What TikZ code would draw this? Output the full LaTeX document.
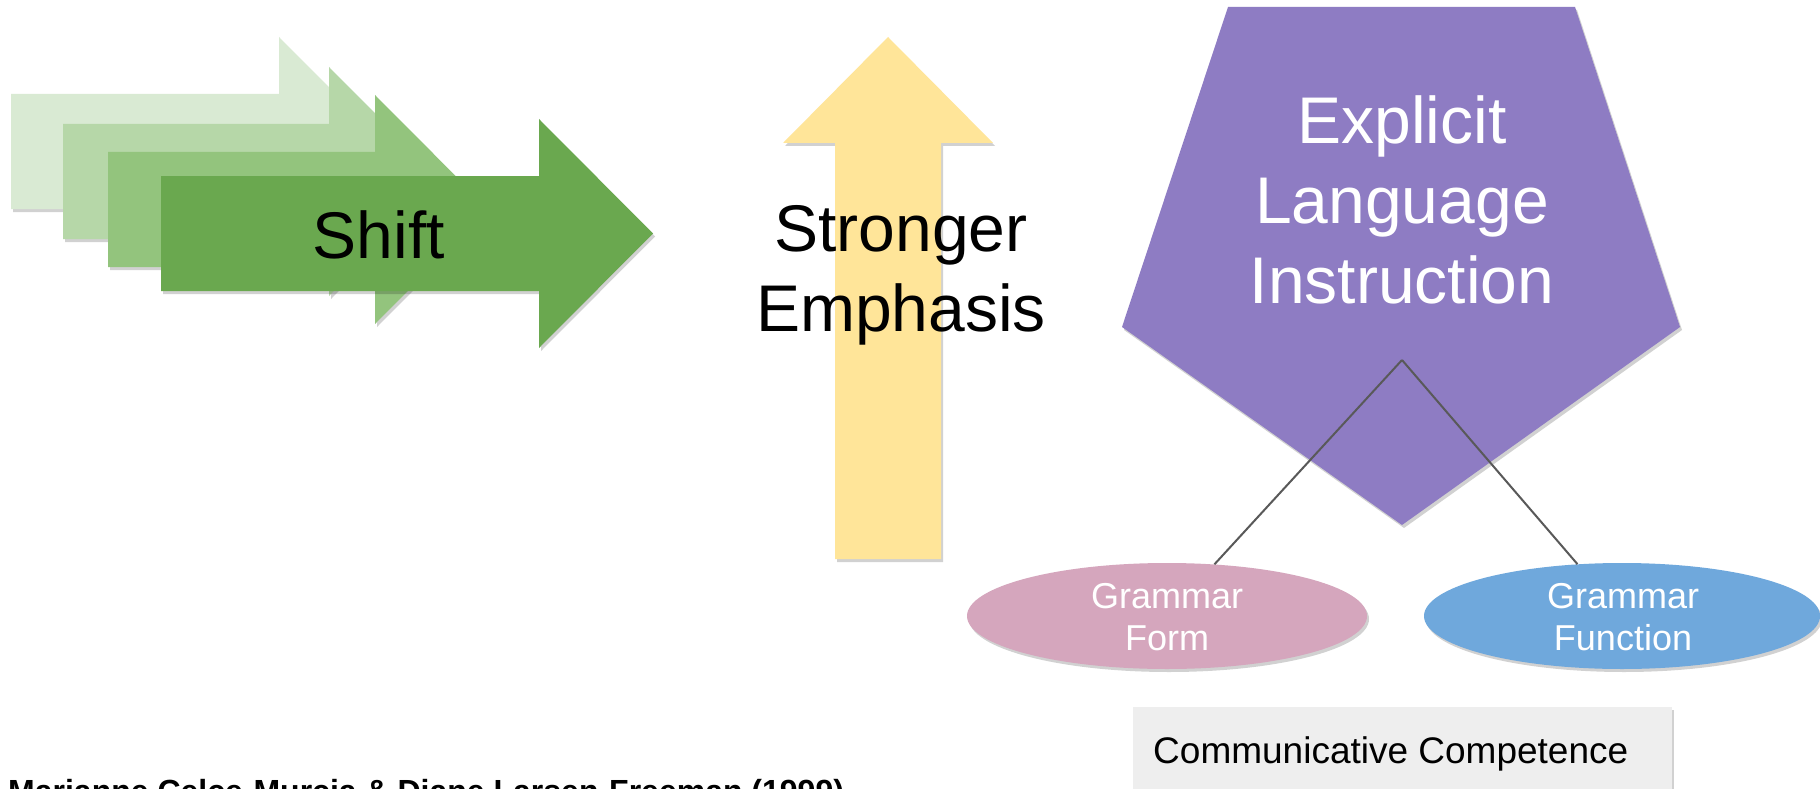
\documentclass[tikz,border=0pt]{standalone}
\usepackage{fontspec}
\setmainfont{Liberation Sans}
\usetikzlibrary{shapes.geometric,shadows}
\definecolor{gA}{HTML}{D9EAD3}
\definecolor{gB}{HTML}{B6D7A8}
\definecolor{gC}{HTML}{93C47D}
\definecolor{gD}{HTML}{6AA84F}
\definecolor{ylw}{HTML}{FFE599}
\definecolor{prp}{HTML}{8E7CC3}
\definecolor{pnk}{HTML}{D5A6BD}
\definecolor{blu}{HTML}{6FA8DC}
\definecolor{boxgray}{HTML}{EEEEEE}
\definecolor{conngray}{HTML}{595959}
\newcommand{\shiftarrow}[4]{%
  \fill[#4, shadowed] (#1,#2) -- (#3,#2) -- (#3,#2-57) -- (#3+114,#2+57.5)
    -- (#3,#2+172) -- (#3,#2+115) -- (#1,#2+115) -- cycle;}
\begin{document}
\begin{tikzpicture}[x=1pt,y=-1pt,
  shadowed/.style={drop shadow={shadow xshift=2pt,shadow yshift=-3pt,opacity=0.18,fill=black}},
  bigtxt/.style={inner sep=0pt,font=\fontsize{66}{80}\selectfont},
  smalltxt/.style={inner sep=0pt,font=\fontsize{36}{42}\selectfont,text=white},
  ellbox/.style={ellipse,minimum height=106pt,inner sep=0pt,shadowed},
  conn/.style={draw=conngray,line width=2pt}]
\clip (0,0) rectangle (1820,789);
\fill[white] (0,0) rectangle (1820,789);

% stacked green arrows
\shiftarrow{11}{94}{279}{gA}
\shiftarrow{63}{124}{329}{gB}
\shiftarrow{108}{152}{375}{gC}
\shiftarrow{161}{176}{539}{gD}
\node[bigtxt,anchor=base] (shift) at (379,258) {Shift};

% yellow arrow
\fill[ylw,shadowed] (835,559) -- (835,143) -- (783,143) -- (888,37) -- (993,143)
  -- (941,143) -- (941,559) -- cycle;
\node[bigtxt,anchor=base] (emph) at (901,251)
  {\begin{tabular}[t]{@{}c@{}}Stronger\\Emphasis\end{tabular}};

% purple pentagon
\fill[prp,shadowed] (1228,7) -- (1575,7) -- (1680,327) -- (1402,525) -- (1122,327) -- cycle;
\node[bigtxt,anchor=base,text=white] (eli) at (1402,143)
  {\begin{tabular}[t]{@{}c@{}}Explicit\\Language\\Instruction\end{tabular}};
\coordinate (apex) at (1402,360);

% ellipses
\node[ellbox,fill=pnk,minimum width=400pt] (ellF) at (1167,616) {};
\node[ellbox,fill=blu,minimum width=396pt] (ellG) at (1622,616) {};
\draw[conn] (apex) -- (ellF);
\draw[conn] (apex) -- (ellG);
\node[smalltxt,anchor=base] (gform) at (1167,608)
  {\begin{tabular}[t]{@{}c@{}}Grammar\\Form\end{tabular}};
\node[smalltxt,anchor=base] (gfunc) at (1623,608)
  {\begin{tabular}[t]{@{}c@{}}Grammar\\Function\end{tabular}};

% communicative competence box
\node[fill=boxgray,anchor=north west,minimum width=539pt,minimum height=100pt,inner sep=0pt,shadowed] (ccbox) at (1133,707) {};
\node[inner sep=0pt,anchor=base west,font=\fontsize{37}{44}\selectfont] (cc) at (1153,763) {Communicative Competence};

% citation
\node[inner sep=0pt,anchor=base west,font=\fontsize{32}{38}\selectfont\bfseries] (cite) at (8,802)
  {Marianne Celce-Murcia \& Diane Larsen-Freeman (1999)};
\end{tikzpicture}
\end{document}
